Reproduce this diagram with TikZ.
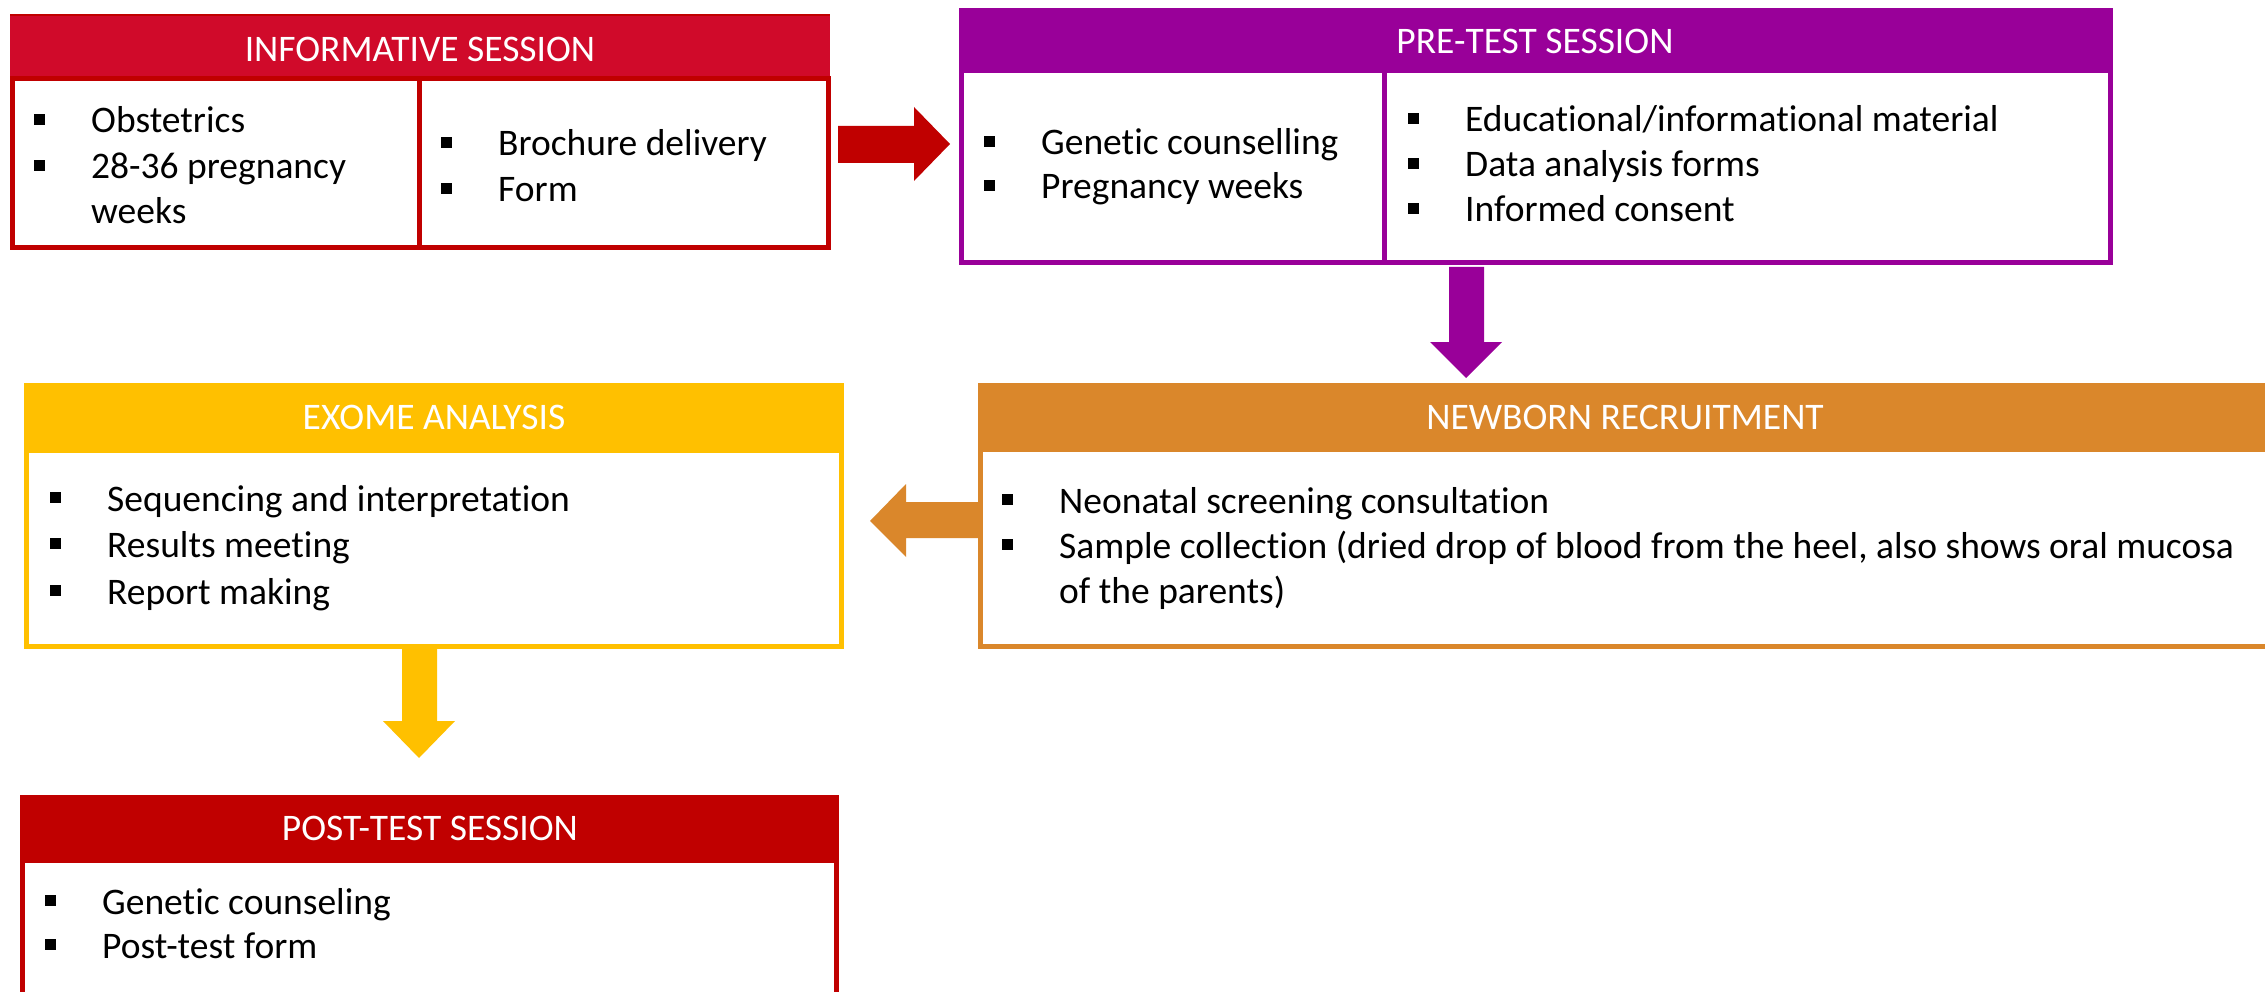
\documentclass[tikz,border=0pt]{standalone}
\usepackage{fontspec}
\setmainfont{Carlito}[Ligatures=NoCommon]
\definecolor{infohead}{HTML}{D00A2A}
\definecolor{darkred}{HTML}{C00000}
\definecolor{purp}{HTML}{990099}
\definecolor{exome}{HTML}{FFC000}
\definecolor{newb}{HTML}{DA872B}
\tikzset{
  body/.style={font=\fontsize{37.5}{45}\selectfont, anchor=base west, inner sep=0pt},
  head/.style={font=\fontsize{37.5}{45}\selectfont, text=white, anchor=center, inner sep=0pt},
  frame/.style={line width=5pt, fill=white},
  bsq/.style={fill=black},
}
% bullet item: #1 name, #2 x of bullet, #3 baseline, #4 text
\newcommand\bitem[4]{%
  \fill[bsq] (#2,#3-19) rectangle (#2+11,#3-8);
  \node[body] (#1) at (#2+57,#3) {#4};}
\begin{document}
\begin{tikzpicture}[x=1pt,y=-1pt]
\useasboundingbox (0,0) rectangle (2265,992);
\fill[white] (0,0) rectangle (2265,992);

% ---------- INFORMATIVE SESSION ----------
\draw[frame, draw=darkred] (12,79) rectangle (828,248);
\fill[infohead] (10,15) rectangle (830,79);
\draw[darkred, line width=2pt] (10,15) -- (830,15);
\draw[darkred, line width=5pt] (10,79) -- (830,79);
\draw[darkred, line width=5pt] (419,79) -- (419,248);
\node[head] (infoh) at (420,49) {INFORMATIVE SESSION};
\bitem{i1}{34}{133}{Obstetrics}
\bitem{i2}{34}{179}{28-36 pregnancy}
\node[body] (i3) at (91,224) {weeks};
\bitem{i4}{441}{156}{Brochure delivery}
\bitem{i5}{441}{202}{Form}

% red arrow
\fill[darkred] (838,126) -- (914,126) -- (914,107) -- (950,144) -- (914,181) -- (914,163) -- (838,163) -- cycle;

% ---------- PRE-TEST SESSION ----------
\draw[frame, draw=purp] (961,71) rectangle (2110,263);
\fill[purp] (958.5,8) rectangle (2112.5,71);
\draw[purp, line width=5pt] (1384,71) -- (1384,263);
\node[head] (preh) at (1535,41) {PRE-TEST SESSION};
\bitem{p1}{984}{155}{Genetic counselling}
\bitem{p2}{984}{199}{Pregnancy weeks}
\bitem{p3}{1408}{132}{Educational/informational material}
\bitem{p4}{1408}{177}{Data analysis forms}
\bitem{p5}{1408}{222}{Informed consent}

% purple arrow down
\fill[purp] (1449,267) -- (1484,267) -- (1484,342) -- (1502,342) -- (1466,378) -- (1430,342) -- (1449,342) -- cycle;

% ---------- NEWBORN RECRUITMENT ----------
\draw[frame, draw=newb] (980,449) rectangle (2275,646);
\fill[newb] (977.5,383) rectangle (2275,449);
\node[head] (newh) at (1625,417) {NEWBORN RECRUITMENT};
\bitem{n1}{1002}{513}{Neonatal screening consultation}
\bitem{n2}{1002}{558}{Sample collection (dried drop of blood from the heel, also shows oral mucosa}
\node[body] (n3) at (1059,603) {of the parents)};

% orange arrow left
\fill[newb] (978,502) -- (906,502) -- (906,484) -- (870,521) -- (906,557) -- (906,538) -- (978,538) -- cycle;

% ---------- EXOME ANALYSIS ----------
\draw[frame, draw=exome] (26,450) rectangle (841,646);
\fill[exome] (23.5,383) rectangle (843.5,450);
\node[head] (exh) at (434,417) {EXOME ANALYSIS};
\bitem{e1}{50}{511}{Sequencing and interpretation}
\bitem{e2}{50}{557}{Results meeting}
\bitem{e3}{50}{604}{Report making}

% yellow arrow down
\fill[exome] (402,649) -- (437,649) -- (437,721) -- (455,721) -- (419,758) -- (383,721) -- (402,721) -- cycle;

% ---------- POST-TEST SESSION ----------
\draw[frame, draw=darkred] (22,860) rectangle (836,994);
\fill[darkred] (19.5,795) rectangle (838.5,860);
\node[head] (posth) at (430,828) {POST-TEST SESSION};
\bitem{q1}{45}{914}{Genetic counseling}
\bitem{q2}{45}{958}{Post-test form}
\end{tikzpicture}
\end{document}
